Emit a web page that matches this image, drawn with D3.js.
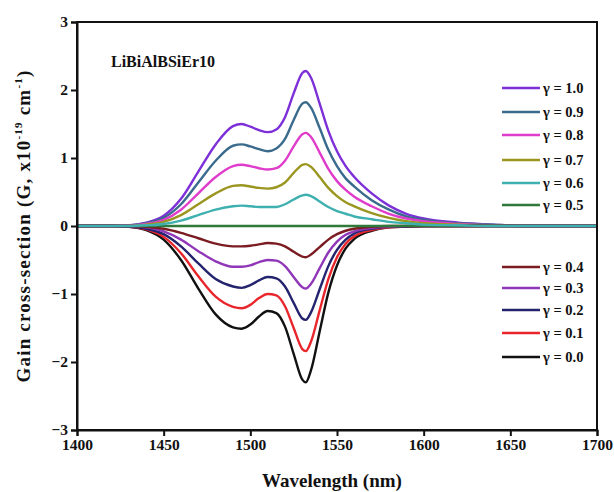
<!DOCTYPE html>
<html><head><meta charset="utf-8">
<script src="https://cdn.jsdelivr.net/npm/d3@7"></script>
<style>body{margin:0;background:#fff}svg{display:block}text{font-family:"Liberation Serif","Times New Roman",serif;font-weight:bold;fill:#111}</style>
</head><body>
<script>
const wavelengths = [1400,1420,1430,1440,1450,1460,1470,1480,1490,1495,1500,1505,1510,1515,1520,1525,1530,1532,1535,1540,1545,1550,1555,1560,1570,1580,1590,1600,1620,1640,1660,1700];
const g10 = [0,0,0.01,0.05,0.15,0.4,0.8,1.2,1.47,1.5,1.46,1.41,1.38,1.42,1.6,1.95,2.25,2.28,2.18,1.8,1.4,1.1,0.88,0.72,0.48,0.3,0.18,0.11,0.05,0.02,0,0];
const g09 = [0,0,0.01,0.04,0.12,0.32,0.64,0.96,1.18,1.2,1.17,1.13,1.1,1.14,1.28,1.56,1.8,1.82,1.74,1.44,1.12,0.88,0.7,0.58,0.38,0.24,0.14,0.09,0.04,0.02,0,0];
const g08 = [0,0,0.01,0.03,0.09,0.24,0.48,0.72,0.88,0.9,0.88,0.85,0.83,0.85,0.96,1.17,1.35,1.37,1.31,1.08,0.84,0.66,0.53,0.43,0.29,0.18,0.11,0.07,0.03,0.01,0,0];
const g07 = [0,0,0,0.02,0.06,0.16,0.32,0.48,0.59,0.6,0.58,0.56,0.55,0.57,0.64,0.78,0.9,0.91,0.87,0.72,0.56,0.44,0.35,0.29,0.19,0.12,0.07,0.04,0.02,0.01,0,0];
const g06 = [0,0,0,0.01,0.03,0.08,0.16,0.24,0.29,0.3,0.29,0.28,0.28,0.28,0.32,0.39,0.45,0.46,0.44,0.36,0.28,0.22,0.18,0.14,0.1,0.06,0.04,0.02,0.01,0,0,0];
const g05 = [0,0,0,0,0,0,0,0,0,0,0,0,0,0,0,0,0,0,0,0,0,0,0,0,0,0,0,0,0,0,0,0];
const g04 = [0,0,0,-0.01,-0.04,-0.1,-0.18,-0.26,-0.3,-0.3,-0.29,-0.27,-0.25,-0.26,-0.3,-0.38,-0.45,-0.46,-0.42,-0.31,-0.2,-0.12,-0.07,-0.04,-0.01,0,0,0,0,0,0,0];
const g03 = [0,0,0,-0.02,-0.08,-0.2,-0.37,-0.52,-0.6,-0.6,-0.58,-0.53,-0.5,-0.51,-0.59,-0.75,-0.9,-0.92,-0.85,-0.62,-0.39,-0.23,-0.13,-0.08,-0.03,-0.01,0,0,0,0,0,0];
const g02 = [0,0,-0.01,-0.04,-0.12,-0.3,-0.55,-0.78,-0.89,-0.91,-0.87,-0.8,-0.75,-0.77,-0.89,-1.13,-1.36,-1.38,-1.27,-0.93,-0.59,-0.35,-0.2,-0.11,-0.04,-0.01,-0.01,0,0,0,0,0];
const g01 = [0,0,-0.01,-0.05,-0.16,-0.4,-0.74,-1.04,-1.19,-1.21,-1.16,-1.06,-1.0,-1.02,-1.18,-1.5,-1.81,-1.84,-1.7,-1.24,-0.78,-0.46,-0.26,-0.15,-0.06,-0.02,-0.01,0,0,0,0,0];
const g00 = [0,0,-0.01,-0.06,-0.2,-0.5,-0.92,-1.3,-1.49,-1.51,-1.45,-1.33,-1.25,-1.28,-1.48,-1.88,-2.26,-2.3,-2.12,-1.55,-0.98,-0.58,-0.33,-0.19,-0.07,-0.02,-0.01,0,0,0,0,0];
const gammaLabels = ["γ = 1.0","γ = 0.9","γ = 0.8","γ = 0.7","γ = 0.6","γ = 0.5","γ = 0.4","γ = 0.3","γ = 0.2","γ = 0.1","γ = 0.0"];
const seriesValues = [g10,g09,g08,g07,g06,g05,g04,g03,g02,g01,g00];
const colors = ["#7d2fd8","#3a6b8c","#e03ccc","#9a9620","#3fb0b0","#2f7a3a","#7a1c22","#9036b8","#24246e","#e8262c","#111111"];
const xTicks = [1400,1450,1500,1550,1600,1650,1700];
const yTicks = [-3,-2,-1,0,1,2,3];
const title = "LiBiAlBSiEr10";

const W=614,H=492, L=77, R=597, T=22, B=430;
const svg = d3.select("body").append("svg").attr("width",W).attr("height",H);
const x = d3.scaleLinear().domain([1400,1700]).range([L,R]);
const y = d3.scaleLinear().domain([-3,3]).range([B,T]);

const line = d3.line().x(d=>x(d[0])).y(d=>y(d[1])).curve(d3.curveMonotoneX);
const order = [0,1,2,3,10,9,8,7,6,5,4];
svg.append("g").selectAll("path").data(order).join("path")
  .attr("d", i => line(wavelengths.map((w,k)=>[w, seriesValues[i][k]])))
  .attr("fill","none").attr("stroke", i=>colors[i]).attr("stroke-width",2.4);

svg.append("rect").attr("x",L).attr("y",T).attr("width",R-L).attr("height",B-T)
  .attr("fill","none").attr("stroke","#111").attr("stroke-width",2);

const xa = svg.append("g").attr("transform",`translate(0,${B})`)
  .call(d3.axisBottom(x).tickValues(xTicks).tickFormat(d3.format("d")).tickSize(6).tickPadding(3));
const ya = svg.append("g").attr("transform",`translate(${L},0)`)
  .call(d3.axisLeft(y).tickValues(yTicks).tickFormat(d3.format("d")).tickSize(6).tickPadding(3));
[xa,ya].forEach(a=>{a.select(".domain").attr("stroke","#111").attr("stroke-width",2);
  a.selectAll(".tick line").attr("stroke","#111").attr("stroke-width",2);
  a.selectAll(".tick text").style("font-family","Liberation Serif, serif").style("font-weight","bold").style("font-size","15.5px").attr("fill","#111");});

svg.append("text").attr("x",(L+R)/2 - 5).attr("y",487).attr("text-anchor","middle").style("font-size","19px").text("Wavelength (nm)");
const yl = svg.append("text").attr("transform",`translate(30,${(T+B)/2}) rotate(-90)`).attr("text-anchor","middle").style("font-size","19px").style("letter-spacing","1.2px");
yl.append("tspan").text("Gain cross-section (G, x10");
yl.append("tspan").attr("dy",-8).style("font-size","11px").text("-19");
yl.append("tspan").attr("dy",8).text(" cm");
yl.append("tspan").attr("dy",-8).style("font-size","11px").text("-1");
yl.append("tspan").attr("dy",8).text(")");

svg.append("text").attr("x",111).attr("y",67).style("font-size","16px").text(title);

const legY = [88,112,135,160,183,205,267,288,310,333,357];
const lg = svg.append("g").selectAll("g").data(gammaLabels).join("g")
  .attr("transform",(d,i)=>`translate(502,${legY[i]})`);
lg.append("line").attr("x1",0).attr("x2",38).attr("y1",0).attr("y2",0).attr("stroke",(d,i)=>colors[i]).attr("stroke-width",2.4);
lg.append("text").attr("x",41).attr("y",5).style("font-size","14.5px").text(d=>d);
</script>
</body></html>
